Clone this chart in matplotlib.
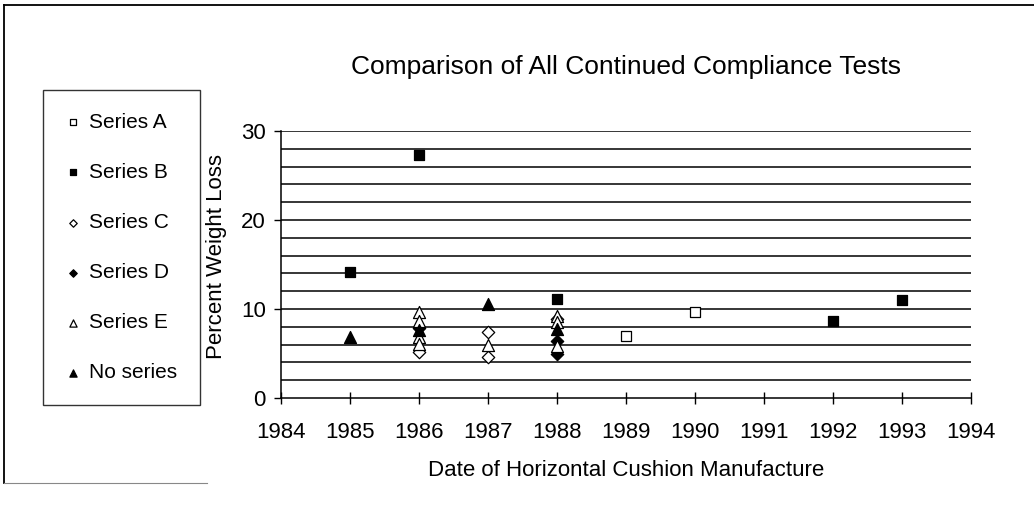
#!/usr/bin/env python3

import matplotlib
matplotlib.use('Agg')
import matplotlib.pyplot as plt
from matplotlib.lines import Line2D
import sys

plt.rcParams['font.family'] = ['Liberation Sans', 'DejaVu Sans']

# values (year, percent weight loss)
series_a_years = [1989, 1990]
series_a_loss = [7.0, 9.7]

series_b_years = [1985, 1986, 1988, 1992, 1993]
series_b_loss = [14.1, 27.3, 11.1, 8.7, 11.0]

series_c_years = [1986, 1987, 1987, 1988]
series_c_loss = [5.2, 7.4, 4.6, 8.9]

series_d_years = [1986, 1988, 1988]
series_d_loss = [7.9, 6.4, 4.9]

series_e_years = [1986, 1986, 1986, 1986, 1987, 1988, 1988, 1988]
series_e_loss = [9.7, 8.7, 6.8, 6.1, 6.0, 9.2, 8.5, 5.8]

no_series_years = [1985, 1986, 1987, 1988]
no_series_loss = [6.8, 7.6, 10.6, 7.8]

year_ticks = list(range(1984, 1995))
loss_ticks = [0, 10, 20, 30]
grid_levels = list(range(2, 31, 2))


def main():
    figure = plt.figure(figsize=(10.34, 5.12), dpi=100)
    axis = figure.add_axes([0.2718, 0.2227, 0.6673, 0.5215])

    for level in grid_levels:
        axis.axhline(level, color='black', lw=1.1, zorder=1)

    axis.scatter(series_a_years, series_a_loss, marker='s', facecolor='white',
                 edgecolor='black', label='Series A', s=55, zorder=3, linewidths=0.9)
    axis.scatter(series_b_years, series_b_loss, marker='s', facecolor='black',
                 edgecolor='black', label='Series B', s=55, zorder=3, linewidths=0.9)
    axis.scatter(series_c_years, series_c_loss, marker='D', facecolor='white',
                 edgecolor='black', label='Series C', s=40, zorder=3, linewidths=0.9)
    axis.scatter(series_d_years, series_d_loss, marker='D', facecolor='black',
                 edgecolor='black', label='Series D', s=40, zorder=3, linewidths=0.9)
    axis.scatter(series_e_years, series_e_loss, marker='^', facecolor='white',
                 edgecolor='black', label='Series E', s=75, zorder=3, linewidths=0.9)
    axis.scatter(no_series_years, no_series_loss, marker='^', facecolor='black',
                 edgecolor='black', label='No series', s=75, zorder=3, linewidths=0.9)

    axis.set_xlim(1984, 1994)
    axis.set_ylim(0, 30)
    axis.set_xticks(year_ticks)
    axis.set_yticks(loss_ticks)
    axis.spines['top'].set_visible(False)
    axis.spines['right'].set_visible(False)
    axis.spines['left'].set_linewidth(1.1)
    axis.spines['bottom'].set_linewidth(1.1)
    axis.tick_params(axis='x', direction='inout', length=8, width=1.0,
                     labelsize=16, pad=13)
    axis.tick_params(axis='y', direction='out', length=5, width=1.0,
                     labelsize=16, pad=6)

    axis.set_xlabel('Date of Horizontal Cushion Manufacture', fontsize=16, va='center')
    axis.xaxis.set_label_coords(0.5, -0.27)
    axis.set_ylabel('Percent Weight Loss', fontsize=16, va='center')
    axis.yaxis.set_label_coords(-0.094, 0.53)
    figure.text(0.605, 0.869, 'Comparison of All Continued Compliance Tests',
                ha='center', va='center', fontsize=19)

    legend = figure.legend(loc='upper left', bbox_to_anchor=(0.0416, 1 - 90 / 512),
                           frameon=True, fancybox=False, edgecolor='black',
                           fontsize=15, labelspacing=1.49, markerscale=0.6,
                           handletextpad=0.4, borderpad=1.1, handlelength=0.7,
                           borderaxespad=0)
    legend.get_frame().set_linewidth(1.0)

    # page border: solid top and left edges, faint bottom edge
    figure.add_artist(Line2D([0.004, 1.0], [0.99, 0.99], transform=figure.transFigure,
                             color='black', lw=1.3))
    figure.add_artist(Line2D([0.004, 0.004], [0.057, 0.99], transform=figure.transFigure,
                             color='black', lw=1.3))
    figure.add_artist(Line2D([0.004, 0.2], [0.057, 0.057], transform=figure.transFigure,
                             color='#888888', lw=0.8))

    figure.savefig('out.png', dpi=100)
    return 0
#-- main


if __name__ == '__main__':
    sys.exit(main())
